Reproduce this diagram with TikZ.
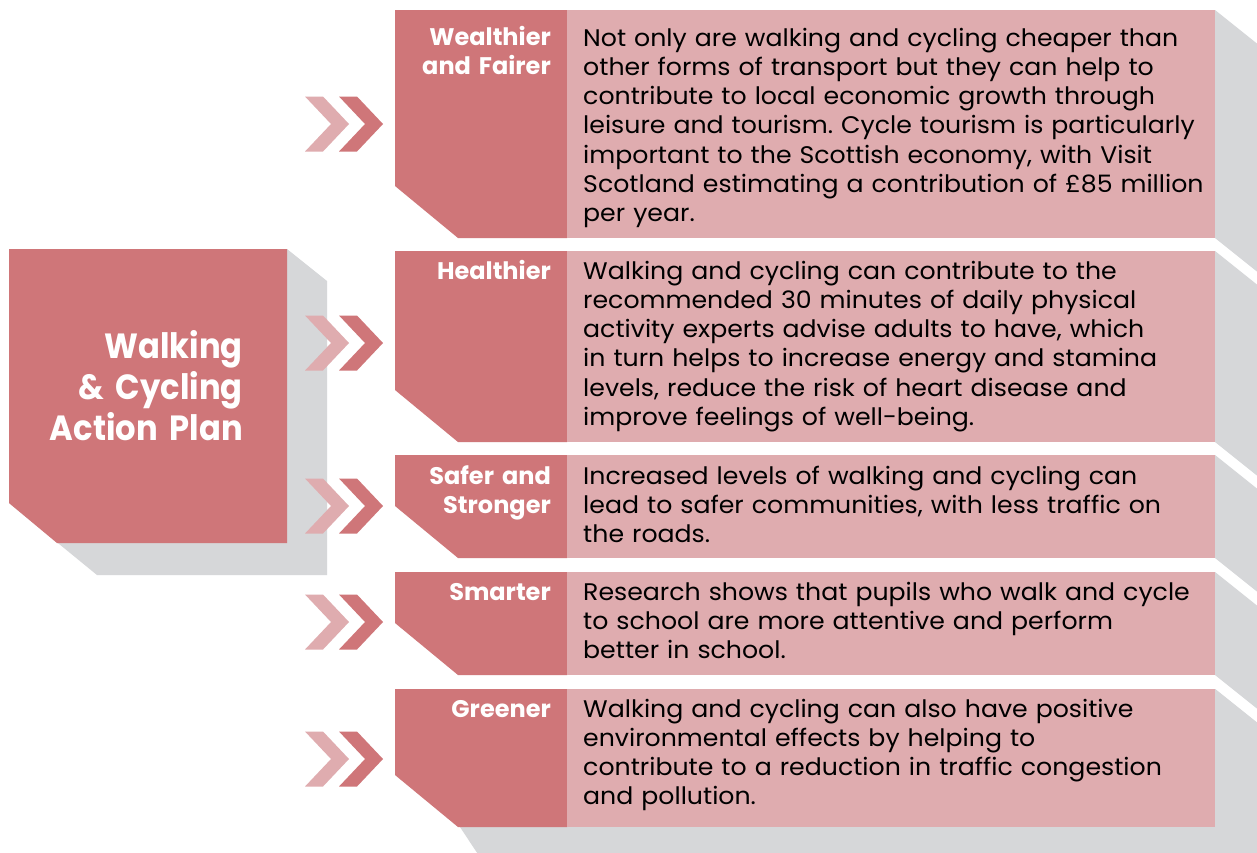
\documentclass[tikz,border=0pt]{standalone}
\usepackage{fontspec}
\setmainfont{Poppins}
\newfontfamily\bodyfont[FakeStretch=1.05]{Poppins}
\newfontfamily\titlefont[FakeStretch=0.92]{Poppins}
\frenchspacing
\definecolor{darkrose}{HTML}{CF7679}
\definecolor{lightrose}{HTML}{DFACAF}
\definecolor{shadowgray}{HTML}{D6D7D9}
\tikzset{
  bodytext/.style={anchor=base west, inner sep=0pt, text width=700pt, align=left,
    font=\bodyfont\fontsize{24}{29.3}\selectfont, text=black},
  labeltext/.style={anchor=base east, inner sep=0pt, text width=200pt, align=right,
    font=\bfseries\fontsize{24}{29.3}\selectfont, text=white},
  maintext/.style={anchor=base east, inner sep=0pt, text width=300pt, align=right,
    font=\titlefont\bfseries\fontsize{35}{41}\selectfont, text=white},
  chevlight/.style={fill=lightrose},
  chevdark/.style={fill=darkrose},
  shadowfill/.style={fill=shadowgray}
}
\newcommand{\chevpair}[1]{%
  \fill[chevlight] (305,#1-27.5) -- (323,#1-27.5) -- (349,#1) -- (323,#1+27.5) -- (305,#1+27.5) -- (331,#1) -- cycle;
  \fill[chevdark] (339,#1-27.5) -- (357,#1-27.5) -- (383,#1) -- (357,#1+27.5) -- (339,#1+27.5) -- (365,#1) -- cycle;
}
% row: top, bottom
\newcommand{\rowbox}[2]{%
  \fill[shadowfill] (1215,#1) -- (1265,#1+40) -- (1265,#2+40) -- (1215,#2) -- cycle;
  \fill[darkrose] (395,#1) -- (567,#1) -- (567,#2) -- (458,#2) -- (395,#2-52) -- cycle;
  \fill[lightrose] (567,#1) rectangle (1215,#2);
}
\begin{document}
\begin{tikzpicture}[x=1pt,y=-1pt]
\clip (0,0) rectangle (1257,852);
\fill[white] (0,0) rectangle (1257,852);

% main box with its shadow
\fill[shadowfill] (287,249) -- (327,281) -- (327,575) -- (97,575) -- (9,503) -- (9,249) -- cycle;
\fill[darkrose] (9,249) -- (287,249) -- (287,543) -- (57,543) -- (9,503) -- cycle;
\node[maintext] (main) at (243,358) {Walking\\ \&~Cycling\\ Action Plan};

% bottom row full shadow
\fill[shadowfill] (1215,689) -- (1265,729) -- (1265,880) -- (495,880) -- (460,827) -- cycle;

\rowbox{10}{238}
\rowbox{251}{442}
\rowbox{455}{558}
\rowbox{572}{675}
\rowbox{689}{827}

\chevpair{124}
\chevpair{343}
\chevpair{506}
\chevpair{622}
\chevpair{759}

\node[labeltext] (l1) at (551,45) {Wealthier\\ and Fairer};
\node[labeltext] (l2) at (551,279) {Healthier};
\node[labeltext] (l3) at (551,484) {Safer and\\ Stronger};
\node[labeltext] (l4) at (551,600) {Smarter};
\node[labeltext] (l5) at (551,717) {Greener};

\node[bodytext] (t1) at (583,46) {Not only are walking and cycling cheaper than\\
other forms of transport but they can help to\\
contribute to local economic growth through\\
leisure and tourism. Cycle tourism is particularly\\
important to the Scottish economy, with Visit\\
Scotland estimating a contribution of £85 million\\
per year.};
\node[bodytext] (t2) at (583,279) {Walking and cycling can contribute to the\\
recommended 30 minutes of daily physical\\
activity experts advise adults to have, which\\
in turn helps to increase energy and stamina\\
levels, reduce the risk of heart disease and\\
improve feelings of well-being.};
\node[bodytext] (t3) at (583,484) {Increased levels of walking and cycling can\\
lead to safer communities, with less traffic on\\
the roads.};
\node[bodytext] (t4) at (583,600) {Research shows that pupils who walk and cycle\\
to school are more attentive and perform\\
better in school.};
\node[bodytext] (t5) at (583,717) {Walking and cycling can also have positive\\
environmental effects by helping to\\
contribute to a reduction in traffic congestion\\
and pollution.};
\end{tikzpicture}
\end{document}
